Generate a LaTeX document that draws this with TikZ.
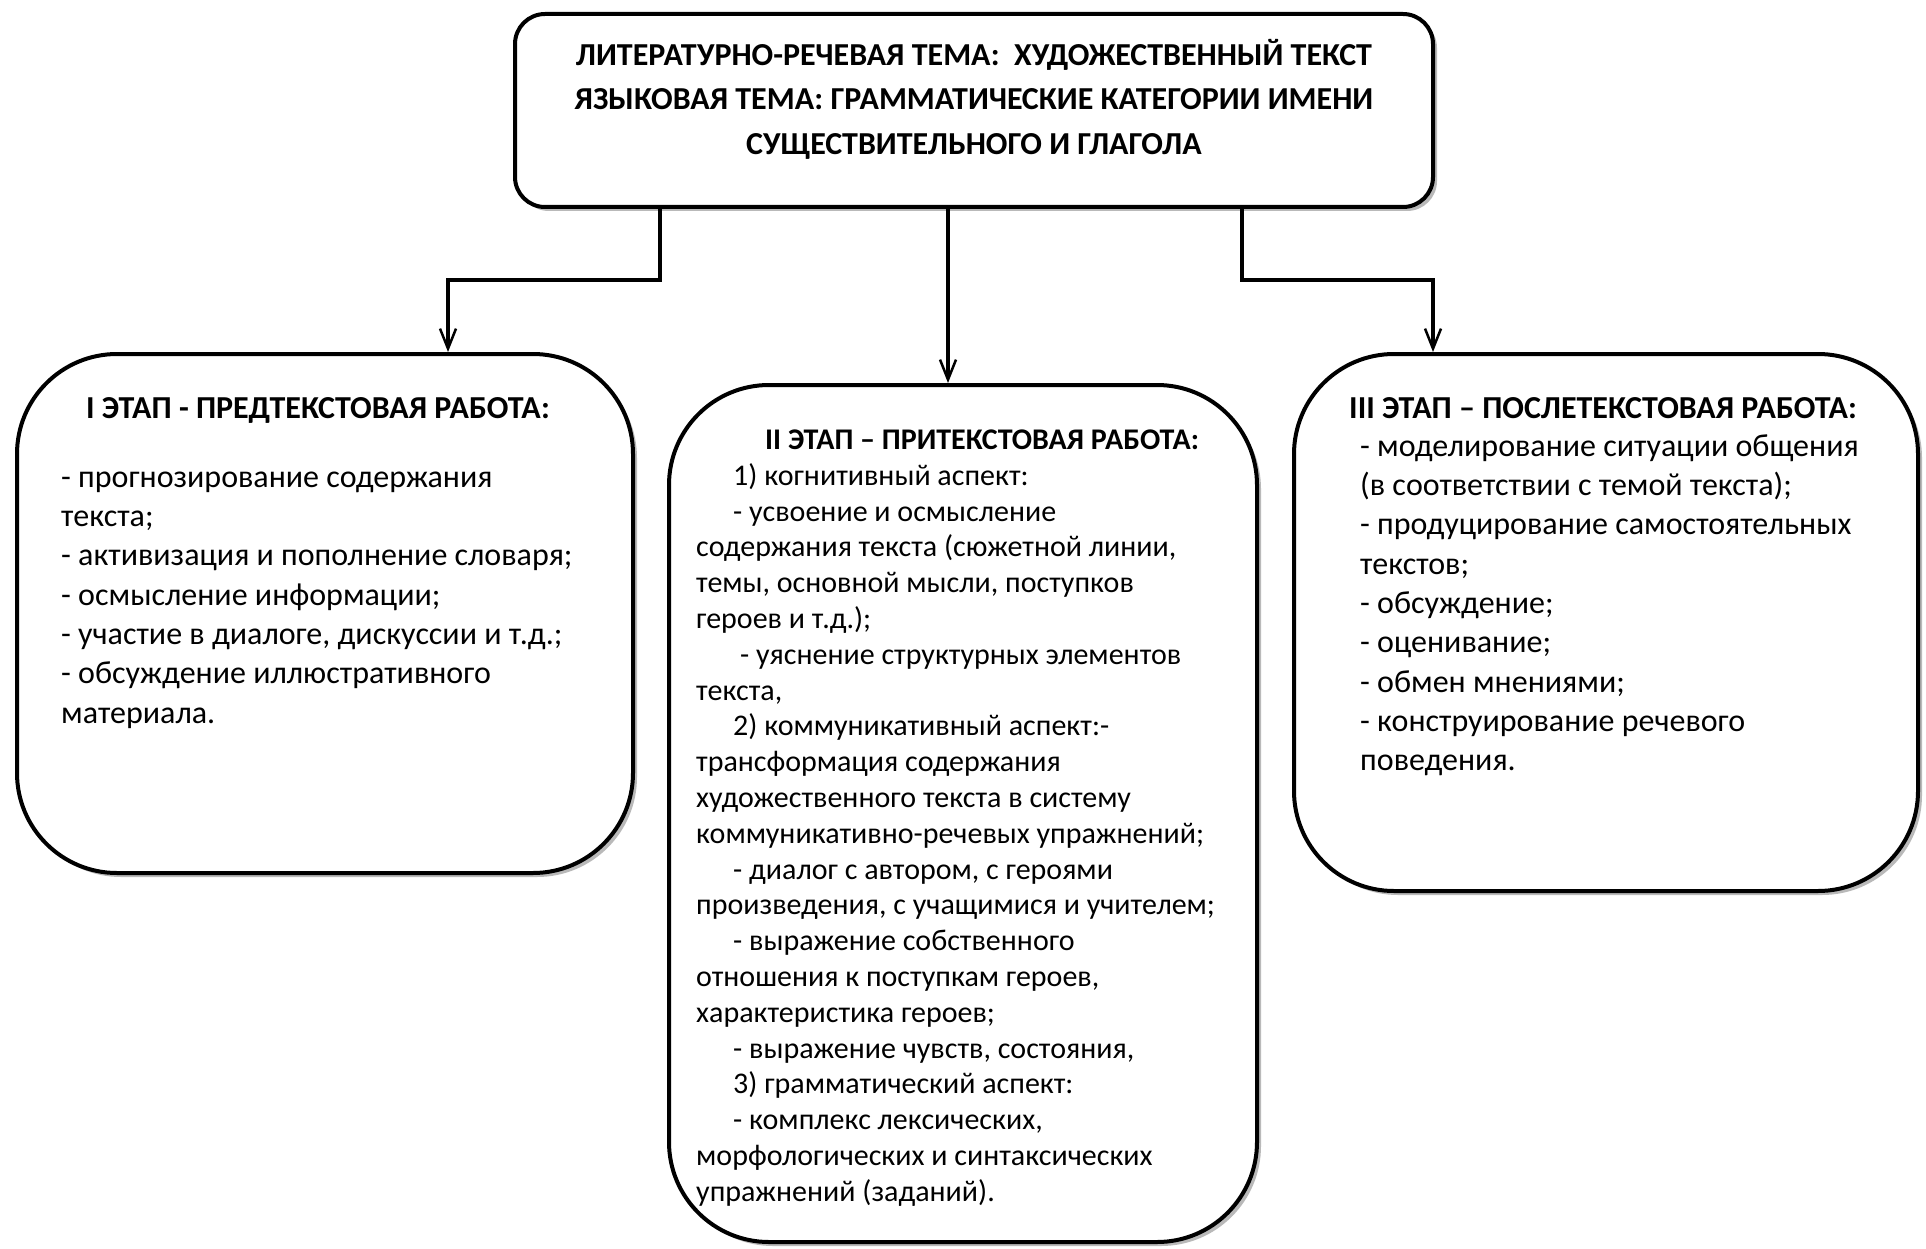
\documentclass[tikz,border=0pt]{standalone}
\usepackage{fontspec}
\setmainfont{Carlito}
\usetikzlibrary{arrows.meta,shadows}
\begin{document}
\begin{tikzpicture}[x=1pt,y=-1pt,
  box/.style={draw, line width=4pt, fill=white, inner sep=0pt, rounded corners=100pt,
    drop shadow={shadow xshift=4pt, shadow yshift=-4pt, fill=gray!55, opacity=1}},
  body/.style={inner sep=0pt, align=left, anchor=north west, font=\fontsize{32}{39.3}\selectfont},
  head/.style={inner sep=0pt, anchor=base west, font=\fontsize{32}{39.3}\selectfont\bfseries},
  conn/.style={line width=3.5pt, -{Straight Barb[length=20pt,width=16pt,line width=2.5pt]}}
]
\useasboundingbox (0,0) rectangle (1926,1249);
\fill[white] (0,0) rectangle (1926,1249);

% boxes
\node[box, rounded corners=30pt, minimum width=918pt, minimum height=193pt] (top) at (974,110.5) {};
\node[box, minimum width=616pt, minimum height=519pt] (left) at (325,613.5) {};
\node[box, minimum width=588pt, minimum height=857pt] (mid) at (963,813.5) {};
\node[box, minimum width=624pt, minimum height=537pt] (right) at (1606,622.5) {};

% top text
\node[inner sep=0pt, anchor=north, align=center, font=\fontsize{32}{44.5}\selectfont\bfseries] (toptxt) at (974,33.9)
 {\strut ЛИТЕРАТУРНО-РЕЧЕВАЯ ТЕМА:\ \ ХУДОЖЕСТВЕННЫЙ ТЕКСТ\\
  ЯЗЫКОВАЯ ТЕМА: ГРАММАТИЧЕСКИЕ КАТЕГОРИИ ИМЕНИ\\
  СУЩЕСТВИТЕЛЬНОГО И ГЛАГОЛА};

% left box
\node[head] (lhead) at (86,418) {I ЭТАП - ПРЕДТЕКСТОВАЯ РАБОТА:};
\node[body] (ltxt) at (61,459.5)
 {\strut - прогнозирование содержания\\
  текста;\\
  - активизация и пополнение словаря;\\
  - осмысление информации;\\
  - участие в диалоге, дискуссии и т.д.;\\
  - обсуждение иллюстративного\\
  материала.};

% middle box
\node[head, font=\fontsize{30}{35.8}\selectfont\bfseries] (mhead) at (765,449) {II ЭТАП – ПРИТЕКСТОВАЯ РАБОТА:};
\node[body, font=\fontsize{30}{35.8}\selectfont] (mtxt) at (696,460)
 {\strut\hspace*{37pt}1) когнитивный аспект:\\
  \hspace*{37pt}- усвоение и осмысление\\
  содержания текста (сюжетной линии,\\
  темы, основной мысли, поступков\\
  героев и т.д.);\\
  \hspace*{44pt}- уяснение структурных элементов\\
  текста,\\
  \hspace*{37pt}2) коммуникативный аспект:-\\
  трансформация содержания\\
  художественного текста в систему\\
  коммуникативно-речевых упражнений;\\
  \hspace*{37pt}- диалог с автором, с героями\\
  произведения, с учащимися и учителем;\\
  \hspace*{37pt}- выражение собственного\\
  отношения к поступкам героев,\\
  характеристика героев;\\
  \hspace*{37pt}- выражение чувств, состояния,\\
  \hspace*{37pt}3) грамматический аспект:\\
  \hspace*{37pt}- комплекс лексических,\\
  морфологических и синтаксических\\
  упражнений (заданий).};

% right box
\node[head] (rhead) at (1349,418) {III ЭТАП – ПОСЛЕТЕКСТОВАЯ РАБОТА:};
\node[body] (rtxt) at (1360,428.6)
 {\strut - моделирование ситуации общения\\
  (в соответствии с темой текста);\\
  - продуцирование самостоятельных\\
  текстов;\\
  - обсуждение;\\
  - оценивание;\\
  - обмен мнениями;\\
  - конструирование речевого\\
  поведения.};

% connectors
\coordinate (lbend) at (660,280);
\coordinate (ltip) at (448,0);
\coordinate (mx) at (948,0);
\coordinate (rbend) at (1242,280);
\coordinate (rtip) at (1433,0);
\draw[conn] (top.south -| lbend) -- (lbend) -| (left.north -| ltip);
\draw[conn] (top.south -| mx) -- (mid.north -| mx);
\draw[conn] (top.south -| rbend) -- (rbend) -| (right.north -| rtip);
\end{tikzpicture}
\end{document}
